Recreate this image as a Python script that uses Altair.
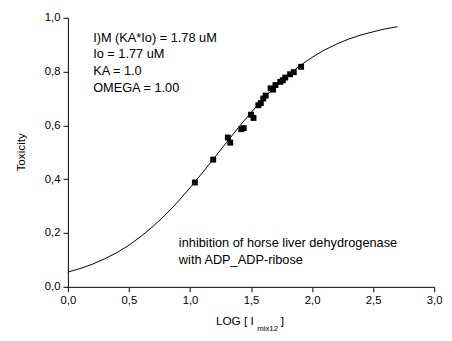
import altair as alt
import pandas as pd

FONT = "Liberation Sans"

# measured data points (LOG[I], Toxicity)
pts_x = [1.04, 1.19, 1.31, 1.33, 1.42, 1.44, 1.50, 1.52, 1.56, 1.58, 1.60, 1.62,
         1.66, 1.68, 1.70, 1.74, 1.76, 1.78, 1.82, 1.85, 1.91]
pts_y = [0.388, 0.473, 0.555, 0.536, 0.586, 0.590, 0.640, 0.628, 0.675, 0.683,
         0.700, 0.711, 0.738, 0.733, 0.750, 0.762, 0.768, 0.778, 0.790, 0.798, 0.818]

# fitted curve
fit_x = [0.0, 0.1, 0.2, 0.3, 0.4, 0.5, 0.6, 0.7, 0.8, 0.9, 1.0, 1.1, 1.2, 1.3,
         1.4, 1.5, 1.6, 1.7, 1.8, 1.9, 2.0, 2.1, 2.2, 2.3, 2.4, 2.5, 2.6, 2.7]
fit_y = [0.055, 0.068, 0.084, 0.104, 0.127, 0.155, 0.188, 0.226, 0.268, 0.316,
         0.368, 0.423, 0.480, 0.537, 0.594, 0.648, 0.698, 0.745, 0.786, 0.822,
         0.853, 0.880, 0.902, 0.921, 0.936, 0.948, 0.959, 0.967]

x_ticks = [0.0, 0.25, 0.5, 0.75, 1.0, 1.25, 1.5, 1.75, 2.0, 2.25, 2.5, 2.75, 3.0]
y_ticks = [0.0, 0.1, 0.2, 0.3, 0.4, 0.5, 0.6, 0.7, 0.8, 0.9, 1.0]

param_lines = ["I)M (KA*Io) = 1.78 uM", "Io = 1.77 uM", "KA = 1.0", "OMEGA = 1.00"]
note_lines = ["inhibition of horse liver dehydrogenase", "with ADP_ADP-ribose"]
x_title_parts = ["LOG [ I", "mix12", "]"]
y_title = "Toxicity"

W, H = 373, 274

pts = pd.DataFrame({"x": pts_x, "y": pts_y})
fit = pd.DataFrame({"x": fit_x, "y": fit_y})

xscale = alt.Scale(domain=[0, 3], nice=False, zero=False)
yscale = alt.Scale(domain=[0, 1], nice=False, zero=False)

xaxis = alt.Axis(
    values=x_ticks, title=None, grid=False,
    labelExpr="(datum.value*4) % 2 === 0 ? replace(format(datum.value, '.1f'), '.', ',') : ''",
    tickSize={"condition": {"test": "(datum.value*4) % 2 === 0", "value": 5}, "value": 3},
    domainColor="black", tickColor="black", labelColor="black",
    labelFont=FONT, labelFontSize=11.5, labelPadding=3,
    labelFlush=False, labelOverlap=False, domainWidth=1, tickWidth=1,
)
yaxis = alt.Axis(
    values=y_ticks, title=None, grid=False,
    labelExpr="round(datum.value*10) % 2 === 0 ? replace(format(datum.value, '.1f'), '.', ',') : ''",
    tickSize={"condition": {"test": "round(datum.value*10) % 2 === 0", "value": 5}, "value": 3},
    domainColor="black", tickColor="black", labelColor="black",
    labelFont=FONT, labelFontSize=11.5, labelPadding=3,
    labelFlush=False, labelOverlap=False, domainWidth=1, tickWidth=1,
)

curve = alt.Chart(fit).mark_line(color="black", strokeWidth=1).encode(
    x=alt.X("x:Q", scale=xscale, axis=xaxis),
    y=alt.Y("y:Q", scale=yscale, axis=yaxis),
)
points = alt.Chart(pts).mark_square(color="black", size=36, opacity=1).encode(
    x=alt.X("x:Q", scale=xscale),
    y=alt.Y("y:Q", scale=yscale),
)

one = pd.DataFrame({"k": [0]})


def txt(s, px, py, size=13, align="left", angle=0):
    return alt.Chart(one).mark_text(
        font=FONT, fontSize=size, color="black", align=align,
        baseline="middle", angle=angle,
    ).encode(x=alt.value(px), y=alt.value(py), text=alt.value(s))


layers = [curve, points]
for i, s in enumerate(param_lines):
    layers.append(txt(s, 25.7, 20.3 + i * 17.0))
for i, s in enumerate(note_lines):
    layers.append(txt(s, 113, 229.3 + i * 17.0))

layers.append(txt(x_title_parts[0], 150.7, 309.3, size=12))
layers.append(txt(x_title_parts[1], 192.7, 317.0, size=8))
layers.append(txt(x_title_parts[2], 216.7, 309.3, size=12))
layers.append(txt(y_title, -47.6, H / 2, size=12, align="center", angle=270))

chart = alt.layer(*layers).properties(
    width=W, height=H,
    autosize="none",
    padding={"left": 61, "top": 7, "right": 10, "bottom": 44},
).configure_view(stroke=None)

chart.save("out.html", embed_options={"renderer": "svg", "actions": False})
